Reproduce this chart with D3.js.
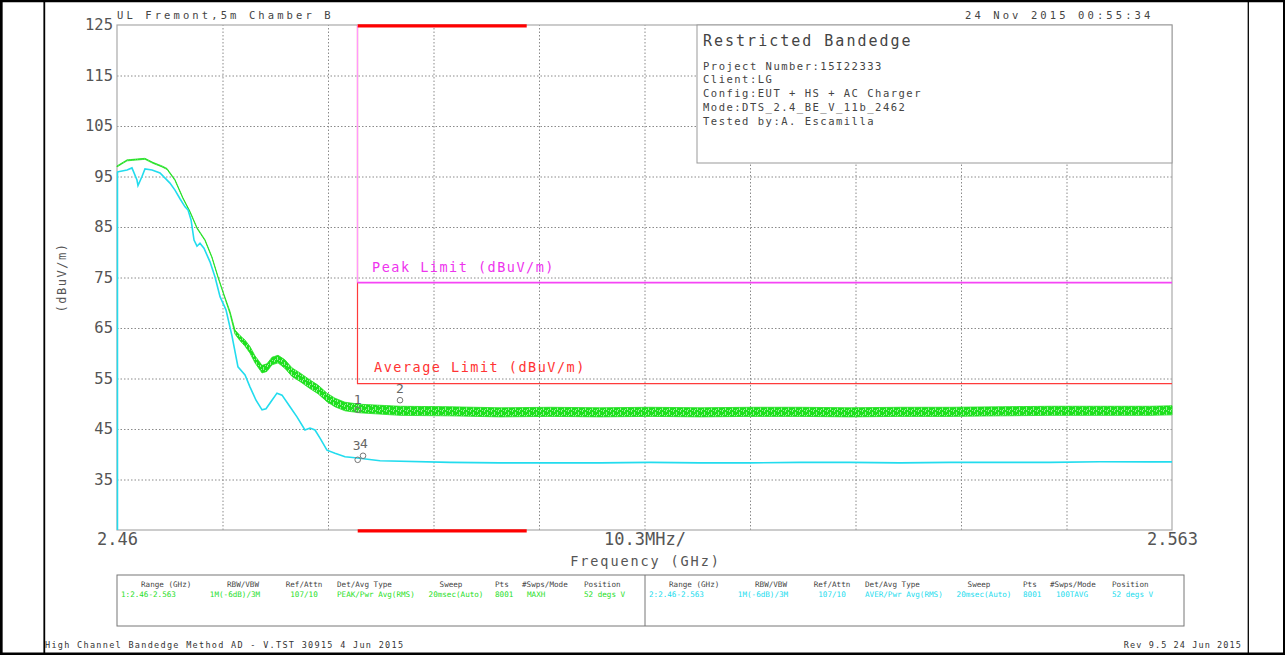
<!DOCTYPE html>
<html>
<head>
<meta charset="utf-8">
<script src="https://cdn.jsdelivr.net/npm/d3@7"></script>
<style>
  body { margin: 0; background: #fff; }
  svg text { font-family: "DejaVu Sans Mono", monospace; }
</style>
</head>
<body>
<script>
"use strict"

/* trace 1: PEAK / MAXH (green), upper and lower edge of the noisy band, dBuV/m */
const freqPeak = [2.4600, 2.46098, 2.46273, 2.46351, 2.46439, 2.46488, 2.46566, 2.46644, 2.46713, 2.46781,
    2.46859, 2.46927, 2.46986, 2.47035, 2.47103, 2.47152, 2.47201, 2.47250, 2.47299, 2.47347,
    2.47416, 2.47464, 2.47513, 2.47572, 2.47640, 2.47709, 2.47787, 2.47884, 2.47962, 2.48050,
    2.48128, 2.48226, 2.48372, 2.48763, 2.49251, 2.49739, 2.50227, 2.50716, 2.51204, 2.51692,
    2.52180, 2.52668, 2.53156, 2.53644, 2.54133, 2.54621, 2.55109, 2.55597, 2.56085, 2.5630];
const peakHi = [97.1, 98.3, 98.6, 97.8, 97.1, 96.6, 94.4, 90.8, 88.1, 84.9,
    82.5, 79.1, 75.2, 72.2, 68.3, 64.6, 63.5, 62.6, 61.3, 59.5,
    57.6, 57.9, 59.2, 59.6, 58.7, 57.1, 56.1, 54.7, 53.7, 52.1,
    51.1, 50.3, 49.9, 49.5, 49.4, 49.2, 49.3, 49.2, 49.3, 49.2,
    49.3, 49.3, 49.2, 49.3, 49.3, 49.4, 49.5, 49.5, 49.5, 49.6];
const peakLo = [96.9, 98.1, 98.4, 97.6, 96.9, 96.4, 94.2, 90.6, 87.9, 84.7,
    82.3, 78.9, 75.0, 72.0, 67.8, 63.8, 62.5, 61.4, 60.0, 58.1,
    56.1, 56.4, 57.7, 58.1, 57.0, 55.4, 54.4, 53.0, 52.0, 50.4,
    49.4, 48.6, 48.2, 47.7, 47.6, 47.4, 47.5, 47.4, 47.5, 47.4,
    47.5, 47.5, 47.4, 47.5, 47.5, 47.6, 47.7, 47.7, 47.7, 47.8];

/* trace 2: AVER / 100TAVG (cyan), dBuV/m */
const freqAvg = [2.4600, 2.46098, 2.46146, 2.46195, 2.46205, 2.46244, 2.46273, 2.46342, 2.46420, 2.46517,
    2.46566, 2.46615, 2.46664, 2.46693, 2.46723, 2.46752, 2.46781, 2.46810, 2.46849, 2.46908,
    2.46957, 2.47006, 2.47064, 2.47123, 2.47181, 2.47250, 2.47299, 2.47357, 2.47416, 2.47455,
    2.47513, 2.47562, 2.47611, 2.47689, 2.47757, 2.47835, 2.47884, 2.47933, 2.47982, 2.48050,
    2.48128, 2.48226, 2.48324, 2.48568, 2.49251, 2.49739, 2.50227, 2.50716, 2.51204, 2.51692,
    2.52180, 2.52668, 2.53156, 2.53644, 2.54133, 2.54621, 2.55109, 2.55597, 2.56085, 2.5630];
const avgTrace = [95.9, 96.3, 96.7, 94.3, 93.2, 95.0, 96.5, 96.3, 95.7, 93.7,
    92.3, 90.6, 89.0, 88.4, 86.4, 82.4, 81.2, 81.8, 80.8, 78.1,
    75.1, 71.2, 68.6, 63.4, 57.3, 55.7, 53.3, 50.7, 48.8, 49.0,
    50.7, 52.1, 51.7, 49.4, 47.4, 44.8, 45.2, 44.8, 43.2, 40.8,
    40.2, 39.5, 39.3, 38.7, 38.4, 38.3, 38.3, 38.3, 38.4, 38.3,
    38.3, 38.4, 38.4, 38.3, 38.4, 38.4, 38.4, 38.5, 38.5, 38.5];

/* limits */
const restrictedBand = [2.4835, 2.5000];
const peakLimit = 74;
const avgLimit = 54;
const limitLabels = ["Peak Limit (dBuV/m)", "Average Limit (dBuV/m)"];

/* markers */
const markerNames = ["1", "2", "3", "4"];
const markerFreq = [2.4835, 2.48763, 2.4835, 2.48402];
const markerLevel = [48.8, 50.7, 38.9, 39.7];

/* axes */
const freqRange = [2.46, 2.563];
const levelRange = [25, 125];
const yTickValues = [35, 45, 55, 65, 75, 85, 95, 105, 115, 125];
const xTickValues = [2.46, 2.5115, 2.563];
const xTickLabels = ["2.46", "10.3MHz/", "2.563"];
const xDivisions = 10;

/* texts */
const headerLeft = "UL Fremont,5m Chamber B";
const headerRight = "24 Nov 2015   00:55:34";
const infoTitle = "Restricted Bandedge";
const infoLines = ["Project Number:15I22333", "Client:LG", "Config:EUT + HS + AC Charger",
    "Mode:DTS_2.4_BE_V_11b_2462", "Tested by:A. Escamilla"];
const tableHeaders = ["Range (GHz)", "RBW/VBW", "Ref/Attn", "Det/Avg Type", "Sweep", "Pts", "#Swps/Mode", "Position"];
const row1Values = ["1:2.46-2.563", "1M(-6dB)/3M", "107/10", "PEAK/Pwr Avg(RMS)", "20msec(Auto)", "8001", "MAXH", "52 degs V"];
const row2Values = ["2:2.46-2.563", "1M(-6dB)/3M", "107/10", "AVER/Pwr Avg(RMS)", "20msec(Auto)", "8001", "100TAVG", "52 degs V"];
const footerLeft = "High Channel Bandedge Method AD - V.TST 30915  4 Jun 2015";
const footerRight = "Rev 9.5 24 Jun 2015";

const W = 1285, H = 655;
const plot = { left: 117, right: 1172, top: 25, bottom: 530 };
const greenCol = "#1fe01f", cyanCol = "#22dcee", textCol = "#555";

const svg = d3.select("body").append("svg")
    .attr("width", W).attr("height", H);

/* a few light specks give the noisy band some texture */
const pat = svg.append("defs").append("pattern")
    .attr("id", "noise").attr("patternUnits", "userSpaceOnUse")
    .attr("width", 7).attr("height", 5);
pat.append("rect").attr("width", 7).attr("height", 5).attr("fill", greenCol);
[[1, 0, 1, 2], [4, 2, 1, 3], [6, 0, 1, 1], [2, 4, 1, 1]].forEach(r => {
    pat.append("rect").attr("x", r[0]).attr("y", r[1]).attr("width", r[2]).attr("height", r[3])
        .attr("fill", "#9af29a");
});

const x = d3.scaleLinear().domain(freqRange).range([plot.left, plot.right]);
const y = d3.scaleLinear().domain(levelRange).range([plot.bottom, plot.top]);

/* page frame */
const frame = svg.append("g").attr("stroke", "#000").attr("fill", "none");
frame.append("line").attr("x1", 0).attr("x2", W).attr("y1", 1).attr("y2", 1).attr("stroke-width", 2.5);
frame.append("line").attr("x1", 0).attr("x2", W).attr("y1", 653.8).attr("y2", 653.8).attr("stroke-width", 2.5);
frame.append("line").attr("x1", 1.3).attr("x2", 1.3).attr("y1", 0).attr("y2", H).attr("stroke-width", 2.7);
frame.append("line").attr("x1", 44.3).attr("x2", 44.3).attr("y1", 0).attr("y2", H).attr("stroke-width", 1.8);
frame.append("line").attr("x1", 1248.3).attr("x2", 1248.3).attr("y1", 0).attr("y2", H).attr("stroke-width", 1.3);
frame.append("line").attr("x1", 1284).attr("x2", 1284).attr("y1", 0).attr("y2", H).attr("stroke-width", 2);

/* grid */
const gridY = svg.append("g")
    .attr("transform", `translate(${plot.left},0)`)
    .call(d3.axisLeft(y).tickValues(yTickValues.filter(v => v < levelRange[1]))
        .tickSize(-(plot.right - plot.left)).tickFormat(""));
const xGrid = d3.range(1, xDivisions).map(i => freqRange[0] + i * (freqRange[1] - freqRange[0]) / xDivisions);
const gridX = svg.append("g")
    .attr("transform", `translate(0,${plot.bottom})`)
    .call(d3.axisBottom(x).tickValues(xGrid)
        .tickSize(-(plot.bottom - plot.top)).tickFormat(""));
[gridY, gridX].forEach(g => {
    g.select(".domain").remove();
    g.selectAll("line").attr("stroke", "#8a8a8a").attr("stroke-width", 1).attr("stroke-dasharray", "1.5,2");
});

/* plot border */
svg.append("rect")
    .attr("x", plot.left).attr("y", plot.top)
    .attr("width", plot.right - plot.left).attr("height", plot.bottom - plot.top)
    .attr("fill", "none").attr("stroke", "#aaa").attr("stroke-width", 1.2);

/* info box */
svg.append("rect")
    .attr("x", 697).attr("y", plot.top)
    .attr("width", plot.right - 697).attr("height", 163 - plot.top)
    .attr("fill", "#fff").attr("stroke", "#999").attr("stroke-width", 1);
svg.append("text").attr("x", 703).attr("y", 46).text(infoTitle)
    .attr("font-size", 15).style("letter-spacing", "2px").attr("fill", "#444");
svg.append("g").selectAll("text").data(infoLines).enter().append("text")
    .attr("x", 703).attr("y", (d, i) => 69.5 + i * 13.8)
    .attr("font-size", 10.5).style("letter-spacing", "1.5px").attr("fill", "#444")
    .text(d => d);

/* traces */
const peakData = freqPeak.map((f, i) => ({ f: f, hi: peakHi[i], lo: peakLo[i] }));
svg.append("path").datum(peakData)
    .attr("d", d3.area().x(d => x(d.f)).y0(d => y(d.lo)).y1(d => y(d.hi)))
    .attr("fill", "url(#noise)").attr("stroke", greenCol).attr("stroke-width", 0.8);

const avgData = freqAvg.map((f, i) => ({ f: f, v: avgTrace[i] }));
svg.append("line")
    .attr("x1", x(freqAvg[0]) + 0.5).attr("x2", x(freqAvg[0]) + 0.5)
    .attr("y1", y(avgTrace[0])).attr("y2", y(levelRange[0]))
    .attr("stroke", cyanCol).attr("stroke-width", 1.5);
svg.append("path").datum(avgData)
    .attr("d", d3.line().x(d => x(d.f)).y(d => y(d.v)))
    .attr("fill", "none").attr("stroke", cyanCol).attr("stroke-width", 1.6);

/* limit lines */
const x0 = Math.round(x(restrictedBand[0])) - 0.5;
svg.append("path")
    .attr("d", d3.line()([[x0, y(levelRange[1])], [x0, y(avgLimit)], [x(freqRange[1]), y(avgLimit)]]))
    .attr("fill", "none").attr("stroke", "#ff3b3b").attr("stroke-width", 1.2);
svg.append("line").attr("x1", x0).attr("x2", x0).attr("y1", y(levelRange[1])).attr("y2", y(peakLimit))
    .attr("stroke", "#ff99ff").attr("stroke-width", 1.2);
svg.append("line").attr("x1", x0).attr("x2", x(freqRange[1])).attr("y1", y(peakLimit)).attr("y2", y(peakLimit))
    .attr("stroke", "#f545f5").attr("stroke-width", 1.8);
svg.append("text").attr("x", 372).attr("y", y(peakLimit) - 11).text(limitLabels[0])
    .attr("font-size", 13.5).style("letter-spacing", "1.5px").attr("fill", "#ee33ee");
svg.append("text").attr("x", 374).attr("y", y(avgLimit) - 12).text(limitLabels[1])
    .attr("font-size", 13.5).style("letter-spacing", "1.5px").attr("fill", "#ff3333");

/* restricted band bars */
[levelRange[1], levelRange[0]].forEach(v => {
    svg.append("line")
        .attr("x1", x(restrictedBand[0])).attr("x2", x(restrictedBand[1]))
        .attr("y1", y(v) + 0.8).attr("y2", y(v) + 0.8)
        .attr("stroke", "#ff0000").attr("stroke-width", 3.2);
});

/* markers */
const labelShift = [[0, 0], [0, -1], [-1, -4], [1, -2]];
const mk = svg.append("g").selectAll("g").data(markerNames).enter().append("g");
mk.append("circle")
    .attr("cx", (d, i) => x(markerFreq[i])).attr("cy", (d, i) => y(markerLevel[i]))
    .attr("r", 2.8).attr("fill", "none").attr("stroke", "#777").attr("stroke-width", 1);
mk.append("text")
    .attr("x", (d, i) => x(markerFreq[i]) + labelShift[i][0])
    .attr("y", (d, i) => y(markerLevel[i]) - 6 + labelShift[i][1])
    .attr("text-anchor", "middle").attr("font-size", 13).attr("fill", "#666")
    .text(d => d);

/* axes labels */
const yAxis = svg.append("g")
    .attr("transform", `translate(${plot.left},0)`)
    .call(d3.axisLeft(y).tickValues(yTickValues).tickSize(0).tickPadding(4));
const xAxis = svg.append("g")
    .attr("transform", `translate(0,${plot.bottom})`)
    .call(d3.axisBottom(x).tickValues(xTickValues).tickSize(0).tickPadding(3)
        .tickFormat((d, i) => xTickLabels[i]));
[yAxis, xAxis].forEach(g => {
    g.select(".domain").remove();
    g.selectAll("text").attr("fill", textCol).attr("font-family", "DejaVu Sans Mono");
});
yAxis.selectAll("text").attr("font-size", 15.5);
xAxis.selectAll("text").attr("font-size", 17);

svg.append("text").attr("x", (plot.left + plot.right) / 2 + 1).attr("y", 566)
    .attr("text-anchor", "middle").attr("font-size", 13.5).style("letter-spacing", "1.9px")
    .attr("fill", textCol).text("Frequency (GHz)");
svg.append("text")
    .attr("transform", `translate(66,${(plot.top + plot.bottom) / 2}) rotate(-90)`)
    .attr("text-anchor", "middle").attr("font-size", 12).style("letter-spacing", "1.5px")
    .attr("fill", textCol).text("(dBuV/m)");

/* header */
svg.append("text").attr("x", plot.left).attr("y", 19).text(headerLeft)
    .attr("font-size", 10.5).style("letter-spacing", "3.1px").attr("fill", "#444");
svg.append("text").attr("x", 965).attr("y", 19).text(headerRight)
    .attr("font-size", 10.5).style("letter-spacing", "3.1px").attr("fill", "#444");

/* trace table */
svg.append("rect").attr("x", 117).attr("y", 575).attr("width", 1184 - 117).attr("height", 626 - 575)
    .attr("fill", "none").attr("stroke", "#777").attr("stroke-width", 1);
svg.append("line").attr("x1", 645).attr("x2", 645).attr("y1", 575).attr("y2", 626)
    .attr("stroke", "#777").attr("stroke-width", 1);

const headX = [[141, "start"], [243, "middle"], [304, "middle"], [337, "start"], [451, "middle"], [495, "start"], [522, "start"], [584, "start"]];
const valX = [[121, "start"], [235, "middle"], [304, "middle"], [337, "start"], [456, "middle"], [495, "start"], [527, "start"], [584, "start"]];
const tableOffset = [0, 528];
[row1Values, row2Values].forEach((row, r) => {
    const g = svg.append("g").attr("transform", `translate(${tableOffset[r]},0)`)
        .attr("font-size", 7.6);
    g.selectAll("text.h").data(tableHeaders).enter().append("text")
        .attr("class", "h")
        .attr("x", (d, i) => headX[i][0]).attr("y", 587)
        .attr("text-anchor", (d, i) => headX[i][1]).attr("fill", "#444").text(d => d);
    g.selectAll("text.v").data(row).enter().append("text")
        .attr("class", "v")
        .attr("x", (d, i) => valX[i][0] - (r == 1 && i == 6 ? -1 : 0)).attr("y", 597)
        .attr("text-anchor", (d, i) => valX[i][1]).attr("fill", r == 0 ? greenCol : cyanCol).text(d => d);
});

/* footer */
svg.append("text").attr("x", 45).attr("y", 648.3).text(footerLeft)
    .attr("font-size", 8.5).style("letter-spacing", "1.3px").attr("fill", "#333");
svg.append("text").attr("x", 1242).attr("y", 648.3).attr("text-anchor", "end").text(footerRight)
    .attr("font-size", 8.5).style("letter-spacing", "1.1px").attr("fill", "#333");
</script>
</body>
</html>
